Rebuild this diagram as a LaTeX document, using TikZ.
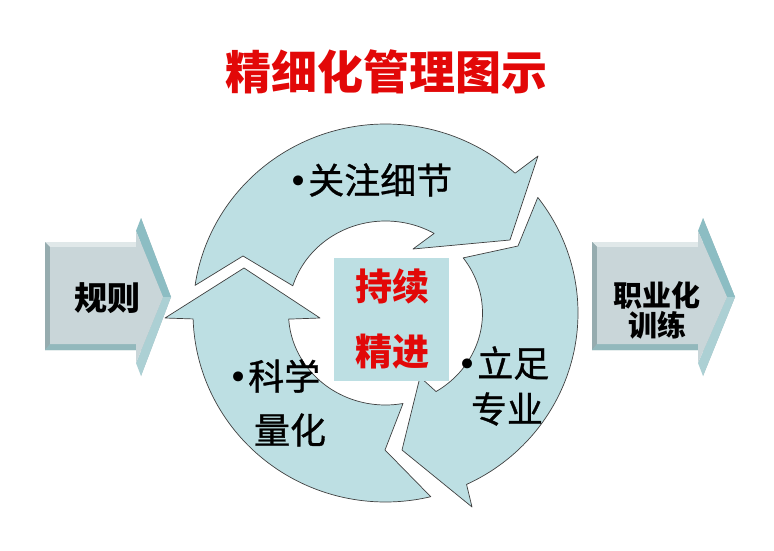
\documentclass[tikz,border=0pt]{standalone}
\usepackage{fontspec}
\newfontfamily\cjk{Noto Sans CJK SC}
\newfontfamily\cjkm{Noto Sans CJK SC}[FakeBold=0.9]
\newfontfamily\dv{DejaVu Sans}
\definecolor{arrowfill}{RGB}{189,223,227}
\definecolor{titlered}{RGB}{226,8,8}
\definecolor{faceclr}{RGB}{201,214,217}
\definecolor{bevdark}{RGB}{160,186,190}
\definecolor{bevlight}{RGB}{224,232,233}
\definecolor{bevleft}{RGB}{150,172,175}
\definecolor{bevbottom}{RGB}{146,184,188}
\definecolor{bevteal}{RGB}{140,189,195}
\definecolor{bevtealb}{RGB}{172,208,212}
\newcommand\sidearrow[3]{%
 \fill[bevdark] (#1,242) -- (#2,242) -- (#2,218) -- (#3,297) -- (#2,376) -- (#2,350) -- (#1,350) -- cycle;
 \fill[bevlight] (#1,242) -- (#2,242) -- ({#2-5},247) -- ({#1+5},247) -- cycle;
 \fill[bevleft] (#1,242) -- ({#1+5},247) -- ({#1+5},344) -- (#1,350) -- cycle;
 \fill[bevbottom] (#1,350) -- ({#1+5},344) -- ({#2-5},344) -- (#2,350) -- cycle;
 \fill[bevteal] (#2,218) -- (#3,297) -- ({#3-8},297) -- ({#2-5},231) -- cycle;
 \fill[bevtealb] (#3,297) -- (#2,376) -- ({#2-5},363) -- ({#3-8},297) -- cycle;
 \fill[faceclr] ({#1+5},247) -- ({#2-5},247) -- ({#2-5},231) -- ({#3-8},297) -- ({#2-5},363) -- ({#2-5},344) -- ({#1+5},344) -- cycle;
}
\newcommand\blt{{\dv\fontsize{34}{34}\selectfont •}}
\tikzset{
 cyc/.style={fill=arrowfill, draw=black!75, line width=0.7pt, line join=round},
 lbl/.style={font=\cjkm\fontsize{36}{40}\selectfont, text=black, inner sep=0pt},
 redtxt/.style={font=\cjk\bfseries\fontsize{37}{40}\selectfont, text=titlered, inner sep=0pt},
 sidetxt/.style={font=\cjk\bfseries\fontsize{#1}{#1}\selectfont, text=black, inner sep=0pt, align=center},
}
\begin{document}
\begin{tikzpicture}[x=1pt,y=-1pt]
\useasboundingbox (0,0) rectangle (774,551);
\fill[white] (0,0) rectangle (774,551);

% title
\node[font=\cjk\bfseries\fontsize{46}{50}\selectfont, text=titlered, inner sep=0pt] (title) at (386,72) {精细化管理图示};

% side arrows
\sidearrow{45}{141}{171}
\sidearrow{592}{703}{735}
\node[sidetxt=33] (rule) at (107,298) {规则};
\node[sidetxt=29] (job1) at (657,295) {职业化};
\node[sidetxt=29] (job2) at (657,325) {训练};

% circular arrows (outer ellipse centre 385.5,313 radii 192.5,189; inner 97,92)
\draw[cyc] plot[domain=188.4:312.3, samples=90] ({385.5+192.5*cos(\x)},{313+189*sin(\x)})
  -- (538,156) -- (510,240) -- (413,249)
  -- plot[domain=300.1:197.2, samples=60] ({385.5+97*cos(\x)},{313+92*sin(\x)})
  -- (243,256) -- cycle;
\draw[cyc] plot[domain=322.3:425.1, samples=90] ({385.5+192.5*cos(\x)},{313+189*sin(\x)})
  -- (472,507) -- (402,450) -- (420,377)
  -- plot[domain=418.6:323.2, samples=60] ({385.5+97*cos(\x)},{313+92*sin(\x)})
  -- (518,246) -- cycle;
\draw[cyc] plot[domain=76.4:178.2, samples=90] ({385.5+192.5*cos(\x)},{313+189*sin(\x)})
  -- (165,318) -- (244,268) -- (320,318)
  -- plot[domain=176.2:79.6, samples=60] ({385.5+97*cos(\x)},{313+92*sin(\x)})
  -- (385,450) -- cycle;

% centre box
\node[fill=arrowfill, minimum width=115pt, minimum height=123pt, inner sep=0pt] (box) at (391.5,319.5) {};
\node[redtxt] (c1) at (392,286) {持续};
\node[redtxt] (c2) at (392,352) {精进};

% labels
\node[lbl, anchor=west] (l1) at (288,180) {\blt 关注细节};
\node[lbl, anchor=west] (l2a) at (457,363) {\blt 立足};
\node[lbl] (l2b) at (507,409) {专业};
\node[lbl, anchor=west] (l3a) at (228,376) {\blt 科学};
\node[lbl] (l3b) at (290,430) {量化};
\end{tikzpicture}
\end{document}
